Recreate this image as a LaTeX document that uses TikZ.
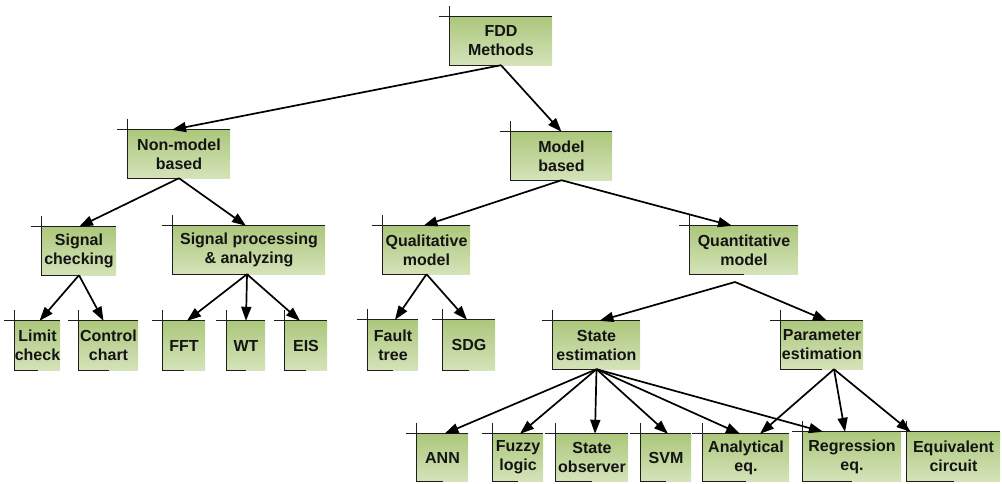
\documentclass[tikz,border=0pt]{standalone}
\usepackage{fontspec}
\setmainfont{Liberation Sans}
\usetikzlibrary{arrows.meta}

\definecolor{boxtop}{RGB}{172,199,124}
\definecolor{boxbot}{RGB}{212,227,185}
\definecolor{frameink}{RGB}{30,30,30}
\definecolor{labelink}{RGB}{20,20,20}

\tikzset{
  fddbox/.style={inner sep=0pt, minimum height=48pt, align=center,
    top color=boxtop, bottom color=boxbot, draw=none,
    font=\fontsize{16}{19}\selectfont\bfseries, text=labelink},
  boxframe/.style={draw=frameink, line width=1.1pt},
  link/.style={draw=black, line width=1.7pt,
    -{Triangle[length=14pt,width=10pt]}}
}

% a box with its corner frame: top edge run out to the left,
% left edge run up, bottom edge drawn to the middle
\newcommand{\fddnode}[5][48]{%
  \node[fddbox, minimum width=#3pt, minimum height=#1pt] (#2) at #4 {#5};
  \draw[boxframe] ([xshift=-11pt]#2.north west) -- (#2.north east);
  \draw[boxframe] ([yshift=11pt]#2.north west) -- (#2.south west) -- (#2.south);
}

\begin{document}
\begin{tikzpicture}[x=1pt, y=-1pt]
\useasboundingbox (0,0) rectangle (1002,483);

% level 0
\fddnode{root}{102}{(501,41)}{FDD\\Methods}
% level 1
\fddnode{nonmodel}{102}{(179,154)}{Non-model\\based}
\fddnode{model}{101}{(561.5,156)}{Model\\based}
% level 2
\fddnode{sigcheck}{74}{(79,251)}{Signal\\checking}
\fddnode{sigproc}{152}{(249,250)}{Signal processing\\\& analyzing}
\fddnode{qual}{87}{(426.5,250)}{Qualitative\\model}
\fddnode{quant}{108}{(744,250)}{Quantitative\\model}
% level 3
\fddnode[49]{limit}{45}{(37.5,345.5)}{Limit\\check}
\fddnode[49]{control}{59}{(108.5,345.5)}{Control\\chart}
\fddnode[49]{fft}{42}{(184,345.5)}{FFT}
\fddnode[49]{wt}{38}{(246,345.5)}{WT}
\fddnode[49]{eis}{42}{(306,345.5)}{EIS}
\fddnode[50]{fault}{50}{(393,345)}{Fault\\tree}
\fddnode[50]{sdg}{52}{(469,345)}{SDG}
\fddnode{stateest}{87}{(596.5,345)}{State\\estimation}
\fddnode{paramest}{82}{(822,345)}{Parameter\\estimation}
% level 4
\fddnode[47]{ann}{51}{(442.5,457.5)}{ANN}
\fddnode[47]{fuzzy}{50}{(518,457.5)}{Fuzzy\\logic}
\fddnode[47]{stateobs}{72}{(592,457.5)}{State\\observer}
\fddnode[47]{svm}{50}{(666,457.5)}{SVM}
\fddnode[47]{analytic}{86}{(746,457.5)}{Analytical\\eq.}
\fddnode[49]{regress}{98}{(852,456.5)}{Regression\\eq.}
\fddnode[49]{equiv}{93}{(953.5,456.5)}{Equivalent\\circuit}

\coordinate (qfork) at (735,282);

% connectors
\draw[link] (root.south) -- ([xshift=-7pt]nonmodel.north);
\draw[link] (root.south) -- (model.north);

\draw[link] (nonmodel.south) -- (sigcheck.north);
\draw[link] (nonmodel.south) -- ([xshift=-3pt]sigproc.north);
\draw[link] (model.south) -- ([xshift=-3pt]qual.north);
\draw[link] (model.south) -- ([xshift=-12pt]quant.north);

\draw[link] (sigcheck.south) -- ([xshift=2pt]limit.north);
\draw[link] (sigcheck.south) -- ([xshift=-5pt]control.north);
\draw[link] ([xshift=-2pt]sigproc.south) -- ([xshift=3pt]fft.north);
\draw[link] ([xshift=-2pt]sigproc.south) -- (wt.north);
\draw[link] ([xshift=-2pt]sigproc.south) -- ([xshift=-6pt]eis.north);
\draw[link] (qual.south) -- ([xshift=2pt]fault.north);
\draw[link] (qual.south) -- ([xshift=-2pt]sdg.north);
\draw[link] (qfork) -- ([xshift=3pt]stateest.north);
\draw[link] (qfork) -- ([xshift=5pt]paramest.north);

\draw[link] (stateest.south) -- ([xshift=2pt]ann.north);
\draw[link] (stateest.south) -- ([xshift=2pt]fuzzy.north);
\draw[link] (stateest.south) -- ([xshift=3pt]stateobs.north);
\draw[link] (stateest.south) -- ([xshift=2pt]svm.north);
\draw[link] (stateest.south) -- ([xshift=-6pt]analytic.north);
\draw[link] (stateest.south) -- ([xshift=-29pt]regress.north);

\draw[link] ([xshift=12pt]paramest.south) -- ([xshift=14pt]analytic.north);
\draw[link] ([xshift=12pt]paramest.south) -- ([xshift=-7pt]regress.north);
\draw[link] ([xshift=12pt]paramest.south) -- ([xshift=-43pt]equiv.north);
\end{tikzpicture}
\end{document}
